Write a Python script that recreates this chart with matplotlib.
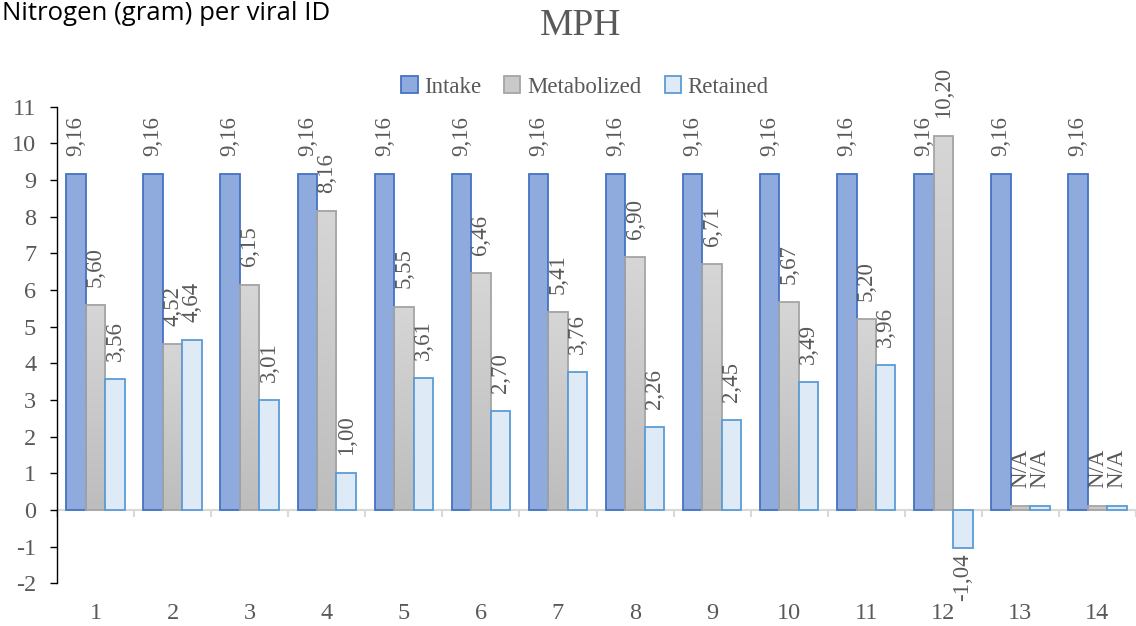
import numpy as np
import matplotlib
matplotlib.use("Agg")
import matplotlib.pyplot as plt
from matplotlib.patches import Patch
from matplotlib.colors import LinearSegmentedColormap

# nitrogen balance per viral ID (grams)
ids = [str(i) for i in range(1, 15)]
intake = [9.16, 9.16, 9.16, 9.16, 9.16, 9.16, 9.16, 9.16, 9.16, 9.16, 9.16, 9.16, 9.16, 9.16]
metabolized = [5.60, 4.52, 6.15, 8.16, 5.55, 6.46, 5.41, 6.90, 6.71, 5.67, 5.20, 10.20, np.nan, np.nan]
retained = [3.56, 4.64, 3.01, 1.00, 3.61, 2.70, 3.76, 2.26, 2.45, 3.49, 3.96, -1.04, np.nan, np.nan]
y_ticks = list(range(-2, 12))

# missing values are shown as a thin stub with an N/A label
stub = 0.1

serif = "Liberation Serif"
grey_txt = "#595959"
plt.rcParams["font.family"] = serif
plt.rcParams["axes.unicode_minus"] = False

fig = plt.figure(figsize=(11.36, 6.26), dpi=100)
ax = fig.add_axes([57 / 1136, 1 - 583.3 / 626, (1136 - 57) / 1136, (583.3 - 106.7) / 626])

x = np.arange(len(ids))
w = 0.253

met_h = [stub if np.isnan(v) else v for v in metabolized]
ret_h = [stub if np.isnan(v) else v for v in retained]

b_in = ax.bar(x - w, intake, w, color="#8FAADC", edgecolor="#4472C4", linewidth=1.3, zorder=3)
b_met = ax.bar(x, met_h, w, color="none", edgecolor="#A5A5A5", linewidth=1.3, zorder=3)
b_ret = ax.bar(x + w, ret_h, w, color="#DEEBF7", edgecolor="#5B9BD5", linewidth=1.3, zorder=3)

# grey gradient fill for the metabolized bars
grad = LinearSegmentedColormap.from_list("gr", ["#BDBDBD", "#D6D6D6"])
for r in b_met:
    x0, h = r.get_x(), r.get_height()
    ax.imshow(np.linspace(0, 1, 128).reshape(-1, 1), cmap=grad, origin="lower",
              extent=[x0, x0 + r.get_width(), 0, h], aspect="auto", zorder=2)


def fmt(v):
    return "N/A" if np.isnan(v) else f"{v:.2f}".replace(".", ",")


def put_labels(bars, vals):
    for r, v in zip(bars, vals):
        cx = r.get_x() + r.get_width() / 2
        h = r.get_height()
        if h < 0:
            ax.annotate(fmt(v), (cx, h), xytext=(0, -4), textcoords="offset points",
                        rotation=90, ha="center", va="top", fontsize=16.5,
                        color=grey_txt, zorder=4)
        else:
            ax.annotate(fmt(v), (cx, h), xytext=(0, 13), textcoords="offset points",
                        rotation=90, ha="center", va="bottom", fontsize=16.5,
                        color=grey_txt, zorder=4)


put_labels(b_in, intake)
put_labels(b_met, metabolized)
put_labels(b_ret, retained)

ax.set_xlim(-0.5, len(ids) - 0.5)
ax.set_ylim(-2, 11)

# zero line with category separators
ax.axhline(0, color="#D9D9D9", linewidth=1.5, zorder=1)
edges = np.arange(len(ids) + 1) - 0.5
ax.vlines(edges, -0.19, 0, color="#D9D9D9", linewidth=1.5, clip_on=False, zorder=1)

ax.set_xticks(x)
ax.set_xticklabels(ids)
ax.tick_params(axis="x", length=0, pad=14)
ax.set_yticks(y_ticks)
ax.tick_params(axis="y", direction="out", length=5, width=1, color="black", pad=10)
for lab in ax.get_xticklabels() + ax.get_yticklabels():
    lab.set_fontsize(17.5)
    lab.set_color(grey_txt)

for s in ["top", "right", "bottom"]:
    ax.spines[s].set_visible(False)
ax.spines["left"].set_color("black")
ax.spines["left"].set_linewidth(1)

handles = [
    Patch(facecolor="#8FAADC", edgecolor="#4472C4", linewidth=1.3, label="Intake"),
    Patch(facecolor="#C9C9C9", edgecolor="#A5A5A5", linewidth=1.3, label="Metabolized"),
    Patch(facecolor="#DEEBF7", edgecolor="#5B9BD5", linewidth=1.3, label="Retained"),
]
fig.legend(handles=handles, loc="center", bbox_to_anchor=(585 / 1136, 1 - 87 / 626), ncol=3,
           frameon=False, handlelength=0.7, handleheight=0.7, handletextpad=0.3,
           columnspacing=1.0, prop={"size": 16.5}, labelcolor=grey_txt)

fig.text(581 / 1136, 1 - 26 / 626, "MPH", ha="center", va="center", fontsize=27,
         color=grey_txt)
fig.text(2 / 1136, 1 - 14 / 626, "Nitrogen (gram) per viral ID", ha="left", va="center",
         fontsize=18.5, family=["Open Sans", "DejaVu Sans"], color="black")

fig.savefig("out.png", dpi=100)
